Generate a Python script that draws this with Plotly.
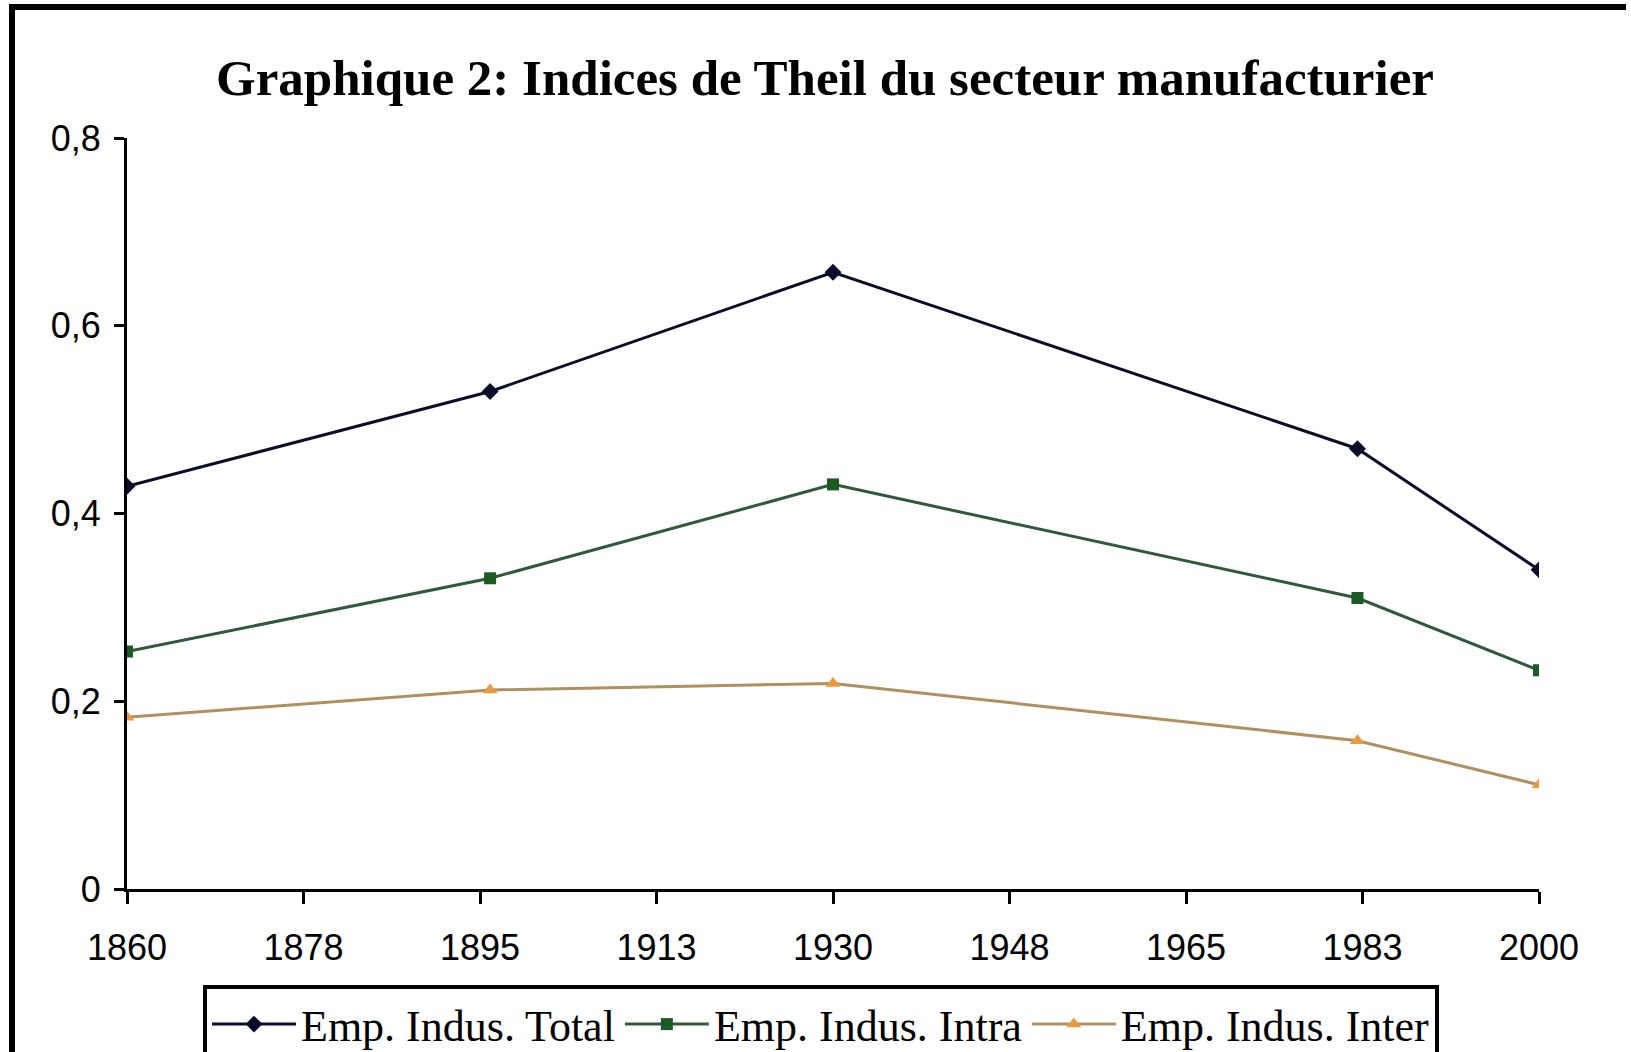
import plotly.graph_objects as go

years = [1860, 1896, 1930, 1982, 2000]
total = [0.429, 0.530, 0.657, 0.469, 0.340]
intra = [0.253, 0.331, 0.431, 0.310, 0.233]
inter = [0.183, 0.212, 0.219, 0.158, 0.111]

x_tickvals = [1860, 1877.5, 1895, 1912.5, 1930, 1947.5, 1965, 1982.5, 2000]
x_ticktext = ["1860", "1878", "1895", "1913", "1930", "1948", "1965", "1983", "2000"]
y_tickvals = [0, 0.2, 0.4, 0.6, 0.8]
y_ticktext = ["0", "0,2", "0,4", "0,6", "0,8"]

fig = go.Figure()
fig.add_trace(go.Scatter(x=years, y=total, mode="lines+markers", name="Emp. Indus. Total",
                         line=dict(color="#0d0d2b", width=3),
                         marker=dict(symbol="diamond", size=13, color="#0d0d2b")))
fig.add_trace(go.Scatter(x=years, y=intra, mode="lines+markers", name="Emp. Indus. Intra",
                         line=dict(color="#2f5a3a", width=3),
                         marker=dict(symbol="square", size=12, color="#1c5c24")))
fig.add_trace(go.Scatter(x=years, y=inter, mode="lines+markers", name="Emp. Indus. Inter",
                         line=dict(color="#b09060", width=3),
                         marker=dict(symbol="triangle-up", size=13, color="#e89a3c")))

W, H = 1631, 1052
L, R, T, B = 127, 92, 138, 163
pw, ph = W - L - R, H - T - B

def px_x(v):
    return (v - L) / pw

def px_y(v):
    return (H - B - v) / ph

fig.update_layout(
    width=W, height=H,
    margin=dict(l=L, r=R, t=T, b=B, autoexpand=False),
    paper_bgcolor="white", plot_bgcolor="white",
    title=dict(text="<b>Graphique 2: Indices de Theil du secteur manufacturier</b>",
               x=825 / W, xanchor="center", y=1 - 77 / H, yanchor="middle",
               font=dict(family="Liberation Serif", size=51, color="black")),
    showlegend=True,
    legend=dict(orientation="h", x=px_x(203), xanchor="left", y=px_y(985), yanchor="top",
                bordercolor="black", borderwidth=4, bgcolor="white",
                font=dict(family="Liberation Serif", size=44, color="black"),
                itemwidth=84, tracegroupgap=0),
    xaxis=dict(range=[1860, 2000], tickvals=x_tickvals, ticktext=x_ticktext,
               showgrid=False, zeroline=False, showline=True, linecolor="black", linewidth=3,
               ticks="outside", ticklen=12, tickwidth=3, tickcolor="black",
               ticklabelstandoff=13, automargin=False,
               tickfont=dict(family="Liberation Sans", size=36, color="black")),
    yaxis=dict(range=[0, 0.8], tickvals=y_tickvals, ticktext=y_ticktext,
               showgrid=False, zeroline=False, showline=True, linecolor="black", linewidth=3,
               ticks="outside", ticklen=10, tickwidth=3, tickcolor="black",
               ticklabelstandoff=6, automargin=False,
               tickfont=dict(family="Liberation Sans", size=36, color="black")),
    shapes=[
        dict(type="line", xref="paper", yref="paper", x0=px_x(12), x1=px_x(12), y0=px_y(4), y1=px_y(H + 10),
             line=dict(color="black", width=6)),
        dict(type="line", xref="paper", yref="paper", x0=px_x(9), x1=px_x(1626), y0=px_y(7), y1=px_y(7),
             line=dict(color="black", width=6)),
    ],
)

fig.write_html("out.html", config={"displayModeBar": False},
               post_script="document.body.style.margin='0';document.body.style.overflow='hidden';")
